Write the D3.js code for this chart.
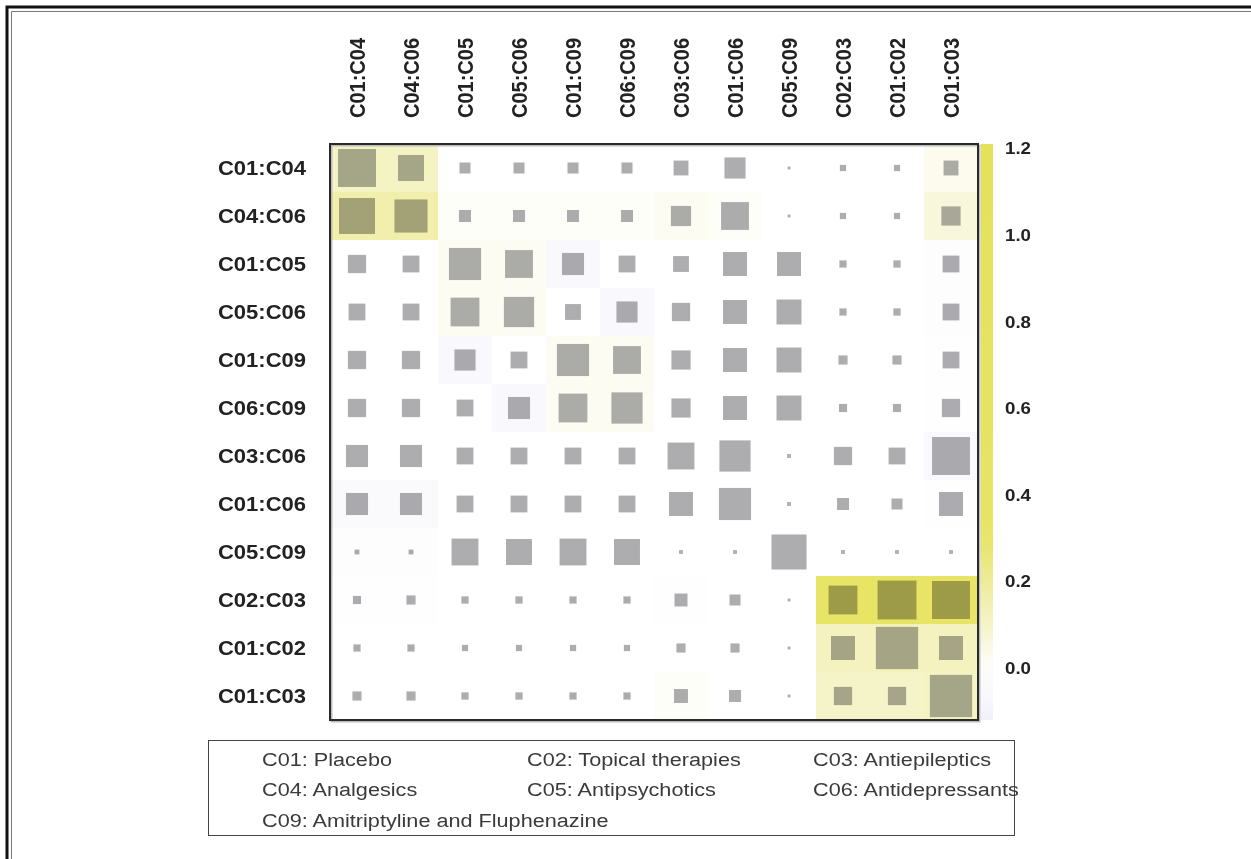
<!DOCTYPE html>
<html>
<head>
<meta charset="utf-8">
<script src="https://cdn.jsdelivr.net/npm/d3@7"></script>
<style>
  body { margin: 0; background: #fff; }
  svg { display: block; font-family: "Liberation Sans", Arial, sans-serif; }
</style>
</head>
<body>
<div id="chart"></div>
<script>
// pair labels, same order on both axes
var pairs = ["C01:C04","C04:C06","C01:C05","C05:C06","C01:C09","C06:C09",
             "C03:C06","C01:C06","C05:C09","C02:C03","C01:C02","C01:C03"];

// square magnitude (fraction of full cell)
var squareVals = [
  [.79,.54,.23,.23,.23,.23,.31,.44,.06,.13,.13,.31],
  [.75,.69,.25,.25,.25,.25,.42,.58,.06,.13,.13,.40],
  [.38,.35,.67,.58,.46,.35,.33,.50,.50,.15,.15,.35],
  [.35,.35,.60,.63,.33,.44,.38,.50,.52,.15,.15,.35],
  [.38,.38,.44,.35,.67,.58,.40,.50,.52,.19,.19,.35],
  [.38,.38,.35,.46,.60,.65,.40,.50,.52,.17,.17,.38],
  [.46,.46,.35,.35,.35,.35,.56,.65,.08,.38,.35,.79],
  [.46,.46,.35,.35,.35,.35,.50,.67,.08,.25,.23,.50],
  [.10,.10,.56,.54,.56,.54,.08,.08,.73,.08,.08,.08],
  [.17,.19,.15,.15,.15,.15,.27,.23,.06,.60,.81,.79],
  [.15,.15,.13,.13,.13,.13,.19,.19,.06,.50,.88,.50],
  [.19,.19,.15,.15,.15,.15,.29,.25,.06,.38,.38,.88]
];

// cell background value on the colour bar
var cellVals = [
  [.11,.11,0,0,0,0,0,0,0,0,0,.03],
  [.16,.16,.01,.01,.01,.01,.02,.01,0,0,0,.06],
  [0,0,.02,.02,-.05,0,0,0,0,0,0,-.02],
  [0,0,.02,.02,0,-.05,0,0,0,0,0,-.02],
  [0,0,-.05,0,.02,.02,0,0,0,0,0,-.01],
  [0,0,0,-.05,.02,.02,0,0,0,0,0,-.01],
  [0,0,0,0,0,0,0,0,0,0,0,-.05],
  [-.04,-.04,0,0,0,0,0,0,0,0,0,-.01],
  [-.02,-.02,0,0,0,0,0,0,0,0,0,0],
  [-.01,-.01,0,0,0,0,-.01,0,0,.3,.3,.3],
  [0,0,0,0,0,0,0,0,0,.12,.12,.12],
  [0,0,0,0,0,0,.01,0,0,.1,.1,.11]
];

var barTicks = [0.0, 0.2, 0.4, 0.6, 0.8, 1.0, 1.2];

var legendItems = [
  ["C01: Placebo", "C02: Topical therapies", "C03: Antiepileptics"],
  ["C04: Analgesics", "C05: Antipsychotics", "C06: Antidepressants"],
  ["C09: Amitriptyline and Fluphenazine"]
];

var W = 1251, H = 859;
var sx = 1.1;   // the original is a bit stretched sideways
var svg = d3.select('#chart').append('svg')
  .attr('width', W)
  .attr('height', H);

// outer frame (double line, top + left)
svg.append('path')
  .attr('d', 'M' + W + ',7 L7,7 L7,' + H)
  .attr('fill', 'none')
  .attr('stroke', '#111')
  .attr('stroke-width', 3);
svg.append('path')
  .attr('d', 'M' + W + ',11.5 L11.5,11.5 L11.5,' + H)
  .attr('fill', 'none')
  .attr('stroke', '#777')
  .attr('stroke-width', 1);

var box = {x0: 330, x1: 978, y0: 144, y1: 720};

var x = d3.scaleBand().domain(pairs).range([box.x0, box.x1]);
var y = d3.scaleBand().domain(pairs).range([box.y0, box.y1]);
var side = d3.scaleLinear().domain([0, 1]).range([0, y.bandwidth()]);

var color = d3.scaleLinear()
  .domain([-0.12, 0, 0.06, 0.3, 1.21])
  .range(['#f1f1fa', '#ffffff', '#f8f7dc', '#e7e466', '#e5e15a'])
  .clamp(true);

var cells = [];
pairs.forEach(function(r, i) {
  pairs.forEach(function(c, j) {
    cells.push({row: r, col: c, v: cellVals[i][j], s: squareVals[i][j]});
  });
});

//sfondo celle
svg.append('g').selectAll('rect')
  .data(cells).enter().append('rect')
  .attr('x', function(d) { return x(d.col); })
  .attr('y', function(d) { return y(d.row); })
  .attr('width', x.bandwidth() + 0.5)
  .attr('height', y.bandwidth() + 0.5)
  .attr('fill', function(d) { return color(d.v); });

//quadrati
svg.append('g').selectAll('rect')
  .data(cells).enter().append('rect')
  .attr('x', function(d) { return x(d.col) + x.bandwidth() / 2 - side(d.s) / 2; })
  .attr('y', function(d) { return y(d.row) + y.bandwidth() / 2 - side(d.s) / 2; })
  .attr('width', function(d) { return side(d.s); })
  .attr('height', function(d) { return side(d.s); })
  .attr('fill', '#adadb0')
  .style('mix-blend-mode', 'multiply');

// box border with a little shadow
svg.append('rect')
  .attr('x', box.x0 + 1.5).attr('y', box.y0 + 1.5)
  .attr('width', box.x1 - box.x0).attr('height', box.y1 - box.y0)
  .attr('fill', 'none').attr('stroke', '#bbb').attr('stroke-width', 2);
svg.append('rect')
  .attr('x', box.x0).attr('y', box.y0)
  .attr('width', box.x1 - box.x0).attr('height', box.y1 - box.y0)
  .attr('fill', 'none').attr('stroke', '#2a2a2a').attr('stroke-width', 2);

// row labels
svg.append('g').selectAll('text')
  .data(pairs).enter().append('text')
  .attr('transform', function(d) {
    return 'translate(306,' + (y(d) + y.bandwidth() / 2) + ') scale(' + sx + ',1)';
  })
  .attr('dy', '0.35em')
  .attr('text-anchor', 'end')
  .attr('font-size', 20)
  .attr('font-weight', 'bold')
  .attr('fill', '#222')
  .text(function(d) { return d; });

// column labels
svg.append('g').selectAll('text')
  .data(pairs).enter().append('text')
  .attr('transform', function(d) {
    return 'translate(' + (x(d) + x.bandwidth() / 2) + ',118) scale(' + sx + ',1) rotate(-90)';
  })
  .attr('dy', '0.35em')
  .attr('text-anchor', 'start')
  .attr('font-size', 20)
  .attr('font-weight', 'bold')
  .attr('fill', '#222')
  .text(function(d) { return d; });

// colour bar
var bar = d3.scaleLinear().domain([-0.12, 1.21]).range([box.y1, box.y0]);
var grad = svg.append('defs').append('linearGradient')
  .attr('id', 'cbar')
  .attr('x1', 0).attr('y1', 1).attr('x2', 0).attr('y2', 0);
d3.range(0, 1.0001, 0.05).forEach(function(t) {
  var v = bar.domain()[0] + t * (bar.domain()[1] - bar.domain()[0]);
  grad.append('stop').attr('offset', t).attr('stop-color', color(v));
});
svg.append('rect')
  .attr('x', 981).attr('y', box.y0)
  .attr('width', 12).attr('height', box.y1 - box.y0)
  .attr('fill', 'url(#cbar)');

svg.append('g').selectAll('text')
  .data(barTicks).enter().append('text')
  .attr('transform', function(d) { return 'translate(1005,' + bar(d) + ') scale(' + sx + ',1)'; })
  .attr('dy', '0.35em')
  .attr('font-size', 17)
  .attr('font-weight', 'bold')
  .attr('fill', '#222')
  .text(function(d) { return d.toFixed(1); });

// legenda
svg.append('rect')
  .attr('x', 208.5).attr('y', 740.5)
  .attr('width', 806).attr('height', 95)
  .attr('fill', 'none')
  .attr('stroke', '#444')
  .attr('stroke-width', 1);

var colX = [262, 527, 813];
legendItems.forEach(function(row, i) {
  svg.append('g').selectAll('text')
    .data(row).enter().append('text')
    .attr('transform', function(d, j) {
      return 'translate(' + colX[j] + ',' + (759 + i * 30.5) + ') scale(1.14,1)';
    })
    .attr('dy', '0.35em')
    .attr('font-size', 19)
    .attr('fill', '#3a3a3a')
    .text(function(d) { return d; });
});
</script>
</body>
</html>
